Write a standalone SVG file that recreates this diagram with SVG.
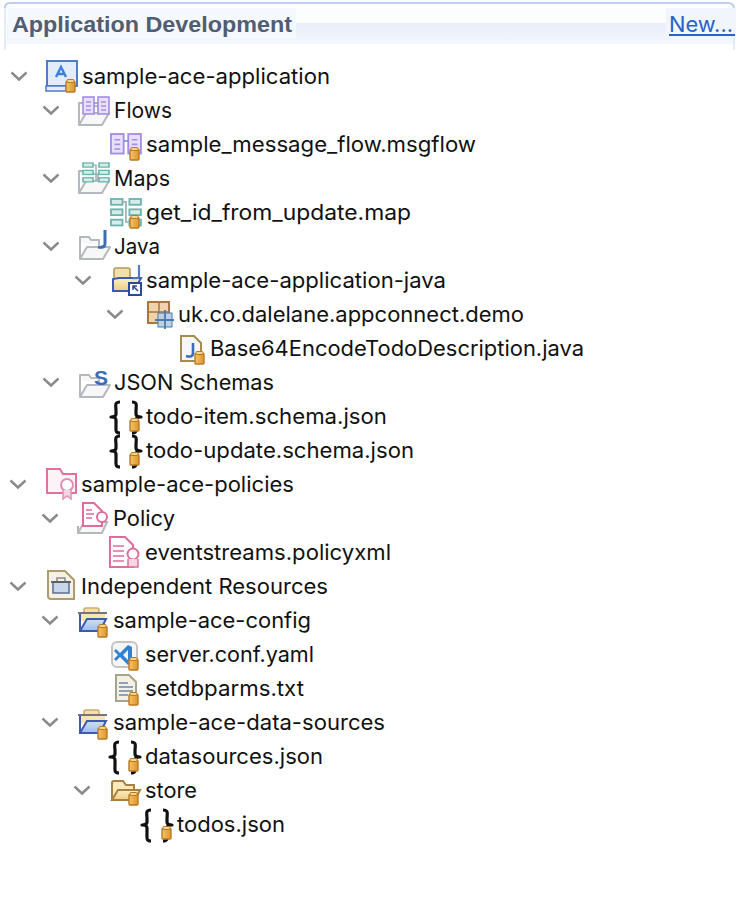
<svg xmlns="http://www.w3.org/2000/svg" width="738" height="900" viewBox="0 0 738 900">
<style>
text{font-family:Inter,"Liberation Sans",sans-serif;font-size:21.5px;fill:#111}
.chev{fill:none;stroke:#8a8a8a;stroke-width:2.4}
.title{font-family:"Liberation Sans",Arial,sans-serif;font-weight:700;font-size:22px;fill:#505d72}
.link{font-size:21.5px;fill:#2a63c8}
.br{fill:none;stroke:#111;stroke-width:3.200;stroke-linejoin:round}
</style>
<defs>
<linearGradient id="hdr" x1="0" y1="0" x2="0" y2="1"><stop offset="0" stop-color="#e8eff9"/><stop offset="1" stop-color="#f4f7fd"/></linearGradient>
<linearGradient id="fold" x1="0" y1="0" x2="0" y2="1"><stop offset="0" stop-color="#fdf0c6"/><stop offset="1" stop-color="#eccb82"/></linearGradient>
<linearGradient id="blue" x1="0" y1="0" x2="0" y2="1"><stop offset="0" stop-color="#e6effb"/><stop offset="1" stop-color="#9cbcea"/></linearGradient>
<linearGradient id="jarg" x1="0" y1="0" x2="1" y2="0"><stop offset="0" stop-color="#f6c468"/><stop offset="1" stop-color="#dd952c"/></linearGradient>
<g id="jar"><rect x="0" y="1.500" width="9" height="10.500" rx="1" fill="url(#jarg)" stroke="#b97a25" stroke-width="1.400"/><rect x="1" y="-0.500" width="7" height="3" rx="1" fill="#f6d58c" stroke="#b97a25" stroke-width="1"/></g>
<path id="c" class="chev" d="M-7.500-3.500L0 3.500L7.500-3.500"/>
<g id="openf"><path d="M1 13V30H24L31 18H8L1 30M1 13V8H10L12 11H20V16" fill="#f7f7f7" stroke="#b4b8bf" stroke-width="2" stroke-linejoin="round"/></g>
<g id="flow"><g fill="#e8e0fb" stroke="#a48de4" stroke-width="1.600"><rect x="0" y="0" width="11" height="17"/><rect x="15" y="0" width="11" height="17"/></g><path d="M3 5H8M3 9H8M3 13H8M18 5H23M18 9H23M18 13H23" stroke="#a48de4" stroke-width="1.400"/><path d="M11 6H15" stroke="#7a8fd0" stroke-width="1.400"/></g>
<g id="map"><g fill="#d6ece9" stroke="#6cb5ae" stroke-width="1.600"><rect x="0" y="0" width="10" height="5"/><rect x="0" y="9" width="10" height="5"/><rect x="0" y="18" width="10" height="5"/><rect x="16" y="0" width="10" height="5"/><rect x="16" y="9" width="10" height="5"/><rect x="16" y="18" width="10" height="5"/></g><path d="M10 2.500H13V20H16" fill="none" stroke="#9fb0b8" stroke-width="1.500"/></g>
<g id="brace"><path class="br" d="M120 2C114 2 116 6 116 11V14C116 16 114 17 111 17C114 17 116 18 116 20V25C116 30 115 33 120 33"/><path class="br" d="M132 2C138 2 136 6 136 11V14C136 16 138 17 141 17C138 17 136 18 136 20V25C136 30 137 33 132 33"/></g>
</defs>
<g id="header">
<rect x="6" y="5" width="728" height="39" fill="#fcfdff"/>
<rect x="7" y="23" width="726" height="21" fill="url(#hdr)"/>
<path d="M5 50V8M734 9V50" fill="none" stroke="#e3ebf7" stroke-width="2"/>
<path d="M5 8Q5 3 10 3H728Q734 3 734 9" fill="none" stroke="#b9d0f0" stroke-width="2"/>
<rect x="8" y="8" width="288" height="31" fill="#f5f8fc"/>
<rect x="666" y="8" width="70" height="30" fill="#f1f5fc"/>
<text class="title" x="12" y="32" textLength="280" lengthAdjust="spacingAndGlyphs">Application Development</text>
<text class="link" x="669" y="32" textLength="64" lengthAdjust="spacingAndGlyphs">New...</text>
<rect x="669" y="34" width="66" height="2" fill="#2a63c8"/>
</g>
<g id="connectors" class="chevrons">
<use href="#c" x="19" y="76"/><use href="#c" x="51" y="110"/><use href="#c" x="51" y="178"/><use href="#c" x="51" y="246"/><use href="#c" x="83" y="280"/><use href="#c" x="115" y="314"/><use href="#c" x="51" y="382"/><use href="#c" x="18" y="484"/><use href="#c" x="50" y="518"/><use href="#c" x="18" y="586"/><use href="#c" x="50" y="620"/><use href="#c" x="50" y="722"/><use href="#c" x="82" y="790"/>
</g>
<g id="n1">
<rect x="47" y="61" width="30" height="25" fill="#e3ecfb" stroke="#3f6fc4" stroke-width="1.800"/><rect x="46" y="86" width="20" height="5" fill="#e8edf6" stroke="#4f79c9" stroke-width="1.500"/><path d="M56 77L61 67L66 77M58 74H64" fill="none" stroke="#3f7fdc" stroke-width="2.400"/><use href="#jar" x="66" y="80"/>
<text x="82" y="84" textLength="248" lengthAdjust="spacingAndGlyphs">sample-ace-application</text></g>
<g id="n2"><use href="#openf" x="78" y="95"/><use href="#flow" x="83" y="97"/><text x="114" y="118" textLength="58" lengthAdjust="spacingAndGlyphs">Flows</text></g>
<g id="n3"><use href="#flow" transform="translate(111 134) scale(1.150)"/><use href="#jar" x="130" y="148"/><text x="146" y="152" textLength="330" lengthAdjust="spacingAndGlyphs">sample_message_flow.msgflow</text></g>
<g id="n4"><use href="#openf" x="78" y="163"/><use href="#map" transform="translate(83 163) scale(1 .82)"/><text x="114" y="186" textLength="56" lengthAdjust="spacingAndGlyphs">Maps</text></g>
<g id="n5"><use href="#map" transform="translate(111 199) scale(1.150 1.150)"/><use href="#jar" x="130" y="216"/><text x="146" y="220" textLength="265" lengthAdjust="spacingAndGlyphs">get_id_from_update.map</text></g>
<g id="n6"><use href="#openf" x="79" y="229"/><path d="M105 230V244Q105 248 98 247" fill="none" stroke="#3e6cb4" stroke-width="3"/><text x="114" y="254" textLength="46" lengthAdjust="spacingAndGlyphs">Java</text></g>
<g id="n7"><path d="M114 279V270Q114 268 116 268H128Q130 268 130 270V279" fill="#f3dfa8" stroke="#b89a5c" stroke-width="1.600"/><path d="M113 279V291H134L141 278H119Z" fill="url(#fold)" stroke="#3e59b0" stroke-width="2"/><path d="M139 265V276Q139 279 133 278" fill="none" stroke="#4f7fc0" stroke-width="2.200"/><rect x="129" y="283" width="12" height="12" fill="#fff" stroke="#2c4a9c" stroke-width="2"/><path d="M138 291L133 286M133 290V286H137" fill="none" stroke="#2c4a9c" stroke-width="1.500"/><text x="146" y="288" textLength="300" lengthAdjust="spacingAndGlyphs">sample-ace-application-java</text></g>
<g id="n8"><rect x="148" y="302" width="21" height="21" fill="#eed3ae" stroke="#a9773f" stroke-width="2"/><path d="M147 312H170M159 301V324" stroke="#a9773f" stroke-width="1.500"/><rect x="158" y="313" width="14" height="14" fill="#bcd1e8" stroke="#4a7cae" stroke-width="1"/><path d="M155 320H174M165 310V329" stroke="#4a7cae" stroke-width="1.800"/><text x="178" y="322" textLength="346" lengthAdjust="spacingAndGlyphs">uk.co.dalelane.appconnect.demo</text></g>
<g id="n9"><path d="M181 336H194L201 343V361H181Z" fill="#f5f6fa" stroke="#a58d50" stroke-width="2"/><path d="M193 343V353Q193 358 186 356" fill="none" stroke="#3e6cb4" stroke-width="2.600"/><use href="#jar" x="195" y="352"/><text x="210" y="356" textLength="374" lengthAdjust="spacingAndGlyphs">Base64EncodeTodoDescription.java</text></g>
<g id="n10"><use href="#openf" x="79" y="367"/><text x="94" y="385" style="font-family:'Liberation Sans',sans-serif;font-weight:700;font-size:21px;fill:#3e6cb4">S</text><text x="114" y="390" textLength="160" lengthAdjust="spacingAndGlyphs">JSON Schemas</text></g>
<g id="n11"><use href="#brace" y="400"/><use href="#jar" x="130" y="419"/><text x="146" y="424" textLength="241" lengthAdjust="spacingAndGlyphs">todo-item.schema.json</text></g>
<g id="n12"><use href="#brace" y="434"/><use href="#jar" x="130" y="453"/><text x="146" y="458" textLength="268" lengthAdjust="spacingAndGlyphs">todo-update.schema.json</text></g>
<g id="n13"><path d="M47 469H60L63 474H76V493H47Z" fill="#fdf3f6" stroke="#e26f9c" stroke-width="2"/><circle cx="67" cy="485" r="6" fill="#fff" stroke="#e58fb0" stroke-width="2"/><path d="M63 490V499L67 496L71 499V490" fill="#f5d5e2" stroke="#e58fb0" stroke-width="1.500"/><text x="81" y="492" textLength="213" lengthAdjust="spacingAndGlyphs">sample-ace-policies</text></g>
<g id="n14"><path d="M78 526V533H102L107 522H84L78 533" fill="#f7f7f7" stroke="#b4b8bf" stroke-width="2"/><path d="M83 503H94L102 511V526H83Z" fill="#fff" stroke="#de6d9b" stroke-width="2"/><path d="M86 510H92M86 514H94M86 518H92" stroke="#de6d9b" stroke-width="1.500"/><circle cx="102" cy="517" r="5" fill="#fff" stroke="#de6d9b" stroke-width="2"/><text x="113" y="526" textLength="62" lengthAdjust="spacingAndGlyphs">Policy</text></g>
<g id="n15"><path d="M110 537H125L133 545V567H110Z" fill="#fff" stroke="#de6d9b" stroke-width="2"/><path d="M113 546H124M113 551H124M113 556H124M113 561H124" stroke="#de6d9b" stroke-width="1.700"/><circle cx="133" cy="554" r="5.500" fill="#fff" stroke="#de6d9b" stroke-width="2"/><path d="M128 559V567H138V559" fill="#f5d5e2" stroke="#de6d9b" stroke-width="1.500"/><text x="145" y="560" textLength="246" lengthAdjust="spacingAndGlyphs">eventstreams.policyxml</text></g>
<g id="n16"><path d="M48 571H65L74 580V599H51Q48 599 48 596Z" fill="#f4f2e8" stroke="#ae9c6c" stroke-width="2"/><rect x="53" y="582" width="16" height="11" fill="#c7d6ea" stroke="#5c6f8c" stroke-width="1.500"/><path d="M51 582H71" stroke="#5c5c5c" stroke-width="1.800"/><path d="M57 581V578H65V581" fill="none" stroke="#8a8a8a" stroke-width="1.500"/><text x="81" y="594" textLength="247" lengthAdjust="spacingAndGlyphs">Independent Resources</text></g>
<g id="n17"><path d="M84 615V610Q84 608 86 608H97Q99 608 99 610V615" fill="#f4dfa6" stroke="#c9ae72" stroke-width="1.600"/><rect x="80" y="613" width="25" height="8" fill="#f7e6b4"/><path d="M78 613H107" stroke="#76757c" stroke-width="2"/><path d="M80 614V631H100L106 619H87L80 631" fill="url(#blue)" stroke="#3e59b0" stroke-width="2"/><use href="#jar" x="98" y="625"/><text x="113" y="628" textLength="198" lengthAdjust="spacingAndGlyphs">sample-ace-config</text></g>
<g id="n18"><rect x="112" y="642" width="25" height="25" rx="5" fill="#f5f5f5" stroke="#c4c4c4" stroke-width="2"/><path fill-rule="evenodd" d="M128 645L132 647V663L128 665L120 657L116 661L114 659L118 655L114 651L116 649L120 653ZM128 650L123 655L128 660Z" fill="#2f83d0"/><use href="#jar" x="129" y="658"/><text x="145" y="662" textLength="169" lengthAdjust="spacingAndGlyphs">server.conf.yaml</text></g>
<g id="n19"><path d="M116 675H129L136 682V701H116Z" fill="#f4f1e2" stroke="#a5a48c" stroke-width="2"/><path d="M119 683H128M119 687H133M119 691H133M119 695H128" stroke="#6d83ad" stroke-width="1.600"/><use href="#jar" x="129" y="693"/><text x="145" y="696" textLength="159" lengthAdjust="spacingAndGlyphs">setdbparms.txt</text></g>
<g id="n20"><path d="M84 717V712Q84 710 86 710H97Q99 710 99 712V717" fill="#f4dfa6" stroke="#c9ae72" stroke-width="1.600"/><rect x="80" y="715" width="25" height="8" fill="#f7e6b4"/><path d="M78 715H107" stroke="#76757c" stroke-width="2"/><path d="M80 716V733H100L106 721H87L80 733" fill="url(#blue)" stroke="#3e59b0" stroke-width="2"/><use href="#jar" x="98" y="727"/><text x="113" y="730" textLength="272" lengthAdjust="spacingAndGlyphs">sample-ace-data-sources</text></g>
<g id="n21"><use href="#brace" x="-1" y="740"/><use href="#jar" x="129" y="759"/><text x="145" y="764" textLength="178" lengthAdjust="spacingAndGlyphs">datasources.json</text></g>
<g id="n22"><path d="M112 800V783Q112 781 114 781H123L126 785H134V791" fill="#f9e9bd" stroke="#a9803f" stroke-width="2"/><path d="M112 800L118 790H140L135 800Z" fill="url(#fold)" stroke="#a9803f" stroke-width="2"/><use href="#jar" x="129" y="793"/><text x="145" y="798" textLength="52" lengthAdjust="spacingAndGlyphs">store</text></g>
<g id="n23"><use href="#brace" x="31" y="808"/><use href="#jar" x="162" y="827"/><text x="177" y="832" textLength="108" lengthAdjust="spacingAndGlyphs">todos.json</text></g>
</svg>
